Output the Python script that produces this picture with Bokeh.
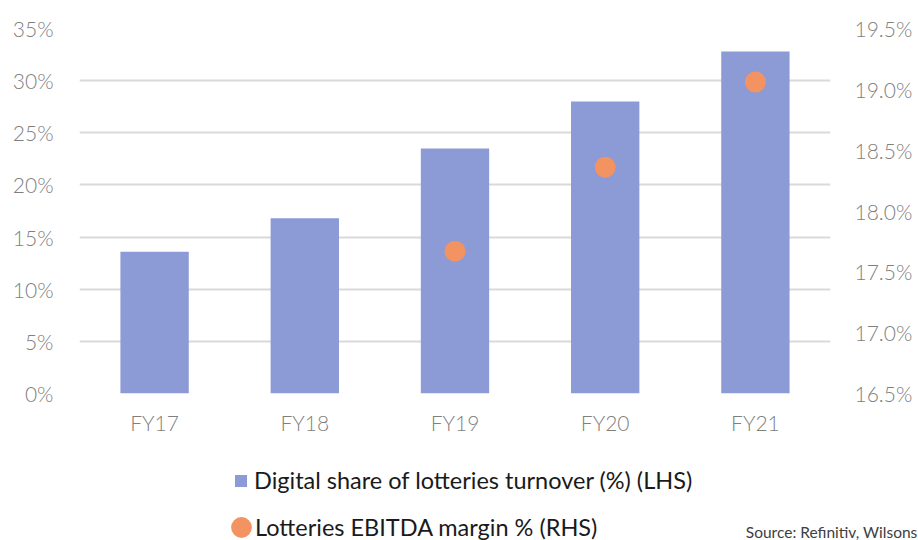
from bokeh.plotting import figure
from bokeh.layouts import column
from bokeh.models import (Range1d, FactorRange, LinearAxis, FixedTicker, PrintfTickFormatter,
                          Legend, LegendItem, Label)
from bokeh.embed import file_html
from bokeh.resources import INLINE

# ---- data ----
categories = ["FY17", "FY18", "FY19", "FY20", "FY21"]
digital_share = [13.6, 16.8, 23.5, 28.0, 32.8]          # % (LHS)
margin_categories = ["FY19", "FY20", "FY21"]
ebitda_margin = [17.67, 18.36, 19.06]                    # % (RHS)
left_ticks = [0, 5, 10, 15, 20, 25, 30, 35]
right_ticks = [16.5, 17.0, 17.5, 18.0, 18.5, 19.0, 19.5]
bar_label = "Digital share of lotteries turnover (%) (LHS)"
dot_label = "Lotteries EBITDA margin % (RHS)"
source_text = "Source: Refinitiv, Wilsons"

TICK_FONT = "'Lato Light', Lato"
FONT = "Lato"
TICK_COLOR = "#7f7f7f"
BAR_COLOR = "#8c9ad6"
DOT_COLOR = "#f39362"

# ---------------- main chart ----------------
p = figure(width=918, height=452, x_range=FactorRange(factors=categories),
           y_range=Range1d(0, 35), output_backend="svg", toolbar_location=None,
           min_border_left=79, min_border_right=88, min_border_top=28, min_border_bottom=59)
p.frame_align = False
p.extra_y_ranges = {"right": Range1d(16.5, 19.5)}
p.outline_line_color = None

bars = p.vbar(x=categories, top=digital_share, width=0.455, color=BAR_COLOR, line_color=None)
dots = p.scatter(x=margin_categories, y=ebitda_margin, y_range_name="right", size=21,
                 marker="circle", fill_color=DOT_COLOR, line_color=None)

ya = p.yaxis[0]
ya.ticker = FixedTicker(ticks=left_ticks)
ya.formatter = PrintfTickFormatter(format="%d%%")
ra = LinearAxis(y_range_name="right", ticker=FixedTicker(ticks=right_ticks),
                formatter=PrintfTickFormatter(format="%.1f%%"))
p.add_layout(ra, "right")

for ax, standoff in ((ya, 26), (ra, 24), (p.xaxis[0], 16)):
    ax.axis_line_color = None
    ax.major_tick_line_color = None
    ax.minor_tick_line_color = None
    ax.major_tick_out = 0
    ax.major_tick_in = 0
    ax.major_label_standoff = standoff
    ax.major_label_text_font = TICK_FONT
    ax.major_label_text_font_size = "21px"
    ax.major_label_text_color = TICK_COLOR

p.xgrid.visible = False
p.ygrid.ticker = FixedTicker(ticks=left_ticks)
p.ygrid.grid_line_color = "#d9d9d9"
p.ygrid.grid_line_width = 2

# ---------------- legend strip ----------------
# proxies share the series data but lie below this strip's y range, so only their legend glyphs show
p2 = figure(width=918, height=88, x_range=FactorRange(factors=categories), y_range=Range1d(60, 61),
            output_backend="svg", toolbar_location=None, min_border=0,
            x_axis_type=None, y_axis_type=None)
p2.frame_align = False
p2.outline_line_color = None
p2.grid.visible = False
bar_proxy = p2.vbar(x=categories, top=digital_share, width=0.455, color=BAR_COLOR, line_color=None)
dot_proxy = p2.ellipse(x=margin_categories, y=ebitda_margin, width=21, height=21,
                       width_units="screen", height_units="screen",
                       fill_color=DOT_COLOR, line_color=None)

common = dict(padding=0, margin=0, border_line_alpha=0, background_fill_alpha=0, spacing=0,
              label_text_font=FONT, label_text_font_size="23.5px", label_text_color="#1a1a1a")
leg1 = Legend(items=[LegendItem(label=bar_label, renderers=[bar_proxy])], location=(233, 46),
              glyph_width=15, glyph_height=15, label_standoff=6, **common)
leg2 = Legend(items=[LegendItem(label=dot_label, renderers=[dot_proxy])], location=(228, -1),
              glyph_width=26, glyph_height=26, label_standoff=1, **common)
p2.add_layout(leg1)
p2.add_layout(leg2)

p2.add_layout(Label(x=917, y=9, x_units="screen", y_units="screen", text=source_text,
                    text_font=FONT, text_font_size="15.5px", text_color="#404040",
                    text_baseline="middle", text_align="right"))

open("out.html", "w").write(file_html(column(p, p2, spacing=0), INLINE))
